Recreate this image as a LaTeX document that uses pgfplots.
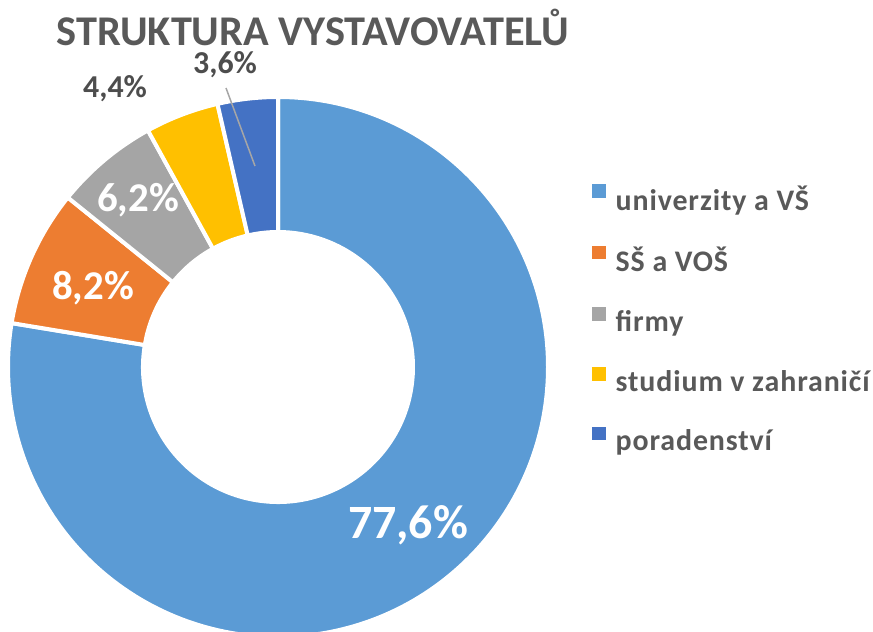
\documentclass[border=0pt]{standalone}
\usepackage{fontspec}
\setmainfont{Carlito}
\usepackage{pgfplots}
\usepackage{pgfplotstable}
\pgfplotsset{compat=1.18}
\definecolor{c1}{HTML}{5B9BD5}
\definecolor{c2}{HTML}{ED7D31}
\definecolor{c3}{HTML}{A5A5A5}
\definecolor{c4}{HTML}{FFC000}
\definecolor{c5}{HTML}{4472C4}
\definecolor{txt}{HTML}{595959}
\definecolor{lbl}{HTML}{4D4D4D}
\pgfplotstableread[col sep=comma]{
label,value,color
univerzity a VŠ,77.6,c1
SŠ a VOŠ,8.2,c2
firmy,6.2,c3
studium v zahraničí,4.4,c4
poradenství,3.6,c5
}\datatable
\begin{document}
\begin{tikzpicture}
\useasboundingbox (0,0) rectangle (873bp,632bp);
\begin{axis}[
  x=1bp, y=1bp, xmin=0, xmax=873, ymin=0, ymax=632,
  scale only axis, hide axis, clip=true,
  legend columns=1,
  legend image code/.code={\fill[draw=none,#1] (0bp,1bp) rectangle (13.5bp,14.5bp);},
  legend style={at={(axis cs:589,450)}, anchor=north west, draw=none, fill=none,
    font=\fontsize{30}{34}\selectfont\bfseries\addfontfeatures{LetterSpace=3}, text=txt,
    nodes={inner sep=0pt}, column sep=10bp, row sep=34bp},
  legend cell align=left,
]
\pgfmathsetmacro\startangle{90}
\pgfplotsforeachungrouped \i in {0,...,4}{%
  \pgfplotstablegetelem{\i}{value}\of\datatable
  \pgfmathsetmacro\endangle{\startangle-3.6*\pgfplotsretval}%
  \pgfplotstablegetelem{\i}{color}\of\datatable
  \edef\temp{\noexpand\filldraw[fill=\pgfplotsretval, draw=white, line width=4bp]
    ([shift={(\startangle:270bp)}]axis cs:278,265)
    arc[start angle=\startangle, end angle=\endangle, radius=270bp]
    -- ([shift={(\endangle:135bp)}]axis cs:278,265)
    arc[start angle=\endangle, end angle=\startangle, radius=135bp] -- cycle;}%
  \temp
  \global\let\startangle\endangle
}
\addlegendimage{fill=c1}
\addlegendimage{fill=c2}
\addlegendimage{fill=c3}
\addlegendimage{fill=c4}
\addlegendimage{fill=c5}
\legend{univerzity a VŠ, SŠ a VOŠ, firmy, studium v zahraničí, poradenství}
\begin{scope}[every node/.style={inner sep=0pt, anchor=base}]
\node[font=\fontsize{42.5}{48}\selectfont\bfseries, text=txt] at (axis cs:313,586) {STRUKTURA VYSTAVOVATELŮ};
\node[font=\fontsize{48}{52}\selectfont\bfseries, text=white] at (axis cs:408,94) {77,6\%};
\node[font=\fontsize{41}{46}\selectfont\bfseries, text=white] at (axis cs:93,333) {8,2\%};
\node[font=\fontsize{41}{46}\selectfont\bfseries, text=white] at (axis cs:138,420) {6,2\%};
\node[font=\fontsize{32}{36}\selectfont\bfseries, text=lbl] at (axis cs:115,534) {4,4\%};
\node[font=\fontsize{32}{36}\selectfont\bfseries, text=lbl] at (axis cs:225,558) {3,6\%};
\end{scope}
\draw[color=gray!70, line width=1.5bp] (axis cs:226,544) -- (axis cs:255,466);
\end{axis}
\end{tikzpicture}
\end{document}
